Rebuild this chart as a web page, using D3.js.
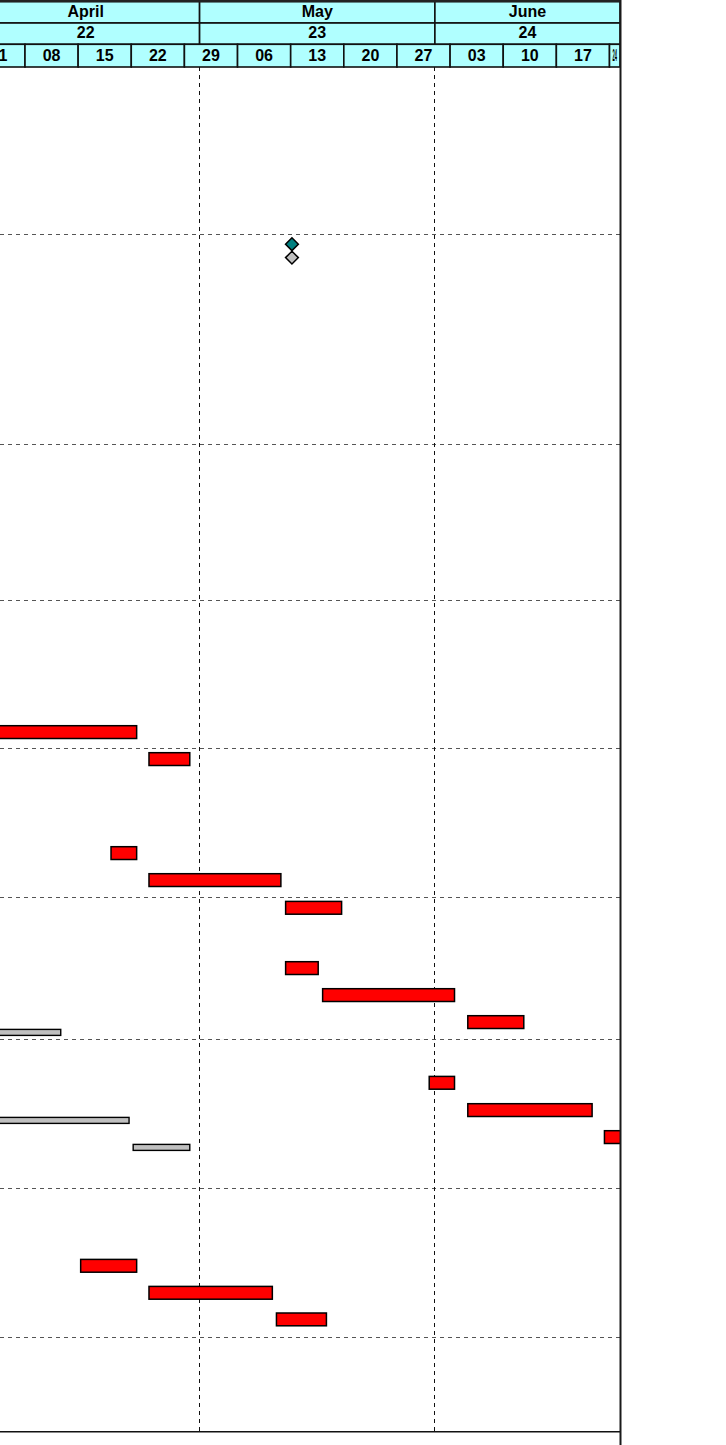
<!DOCTYPE html>
<html>
<head>
<meta charset="utf-8">
<script src="https://cdn.jsdelivr.net/npm/d3@7"></script>
<style>
body { margin: 0; background: #fff; }
svg { display: block; }
</style>
</head>
<body>
<script>
// timescale tiers
var monthStarts = ["2024-04-01", "2024-05-01", "2024-06-01", "2024-07-01"]
var monthLabels = ["April", "May", "June"]
var periodLabels = ["22", "23", "24"]

// scheduled bars (red) - row = task row in the sheet
var tasks = [
  {row: 5,  start: "2024-03-25 08:00", end: "2024-04-22 17:00"},
  {row: 6,  start: "2024-04-24 08:00", end: "2024-04-29 17:00"},
  {row: 8,  start: "2024-04-19 08:00", end: "2024-04-22 17:00"},
  {row: 9,  start: "2024-04-24 08:00", end: "2024-05-11 17:00"},
  {row: 10, start: "2024-05-12 08:00", end: "2024-05-19 17:00"},
  {row: 12, start: "2024-05-12 08:00", end: "2024-05-16 15:00"},
  {row: 13, start: "2024-05-17 05:00", end: "2024-06-03 14:00"},
  {row: 14, start: "2024-06-05 08:00", end: "2024-06-12 17:00"},
  {row: 16, start: "2024-05-31 06:00", end: "2024-06-03 14:00"},
  {row: 17, start: "2024-06-05 08:00", end: "2024-06-21 17:00"},
  {row: 18, start: "2024-06-23 08:00", end: "2024-06-28 17:00"},
  {row: 20, start: "2024-04-15 08:00", end: "2024-04-22 17:00"},
  {row: 21, start: "2024-04-24 08:00", end: "2024-05-10 14:00"},
  {row: 22, start: "2024-05-11 03:00", end: "2024-05-17 17:00"}
]

// baseline bars (grey)
var baselines = [
  {row: 14, start: "2024-03-25 08:00", end: "2024-04-12 17:00"},
  {row: 17, start: "2024-03-25 08:00", end: "2024-04-21 17:00"},
  {row: 18, start: "2024-04-22 06:00", end: "2024-04-29 17:00"}
]

// milestones
var milestones = [
  {row: 1, date: "2024-05-13 04:00", kind: "task"},
  {row: 1, date: "2024-05-13 04:00", kind: "baseline"}
]

// row heights of the sheet (wrapped names make some rows taller)
var rowHeights = [167, 27, 183, 156, 121.3, 27, 27, 67, 27, 27.7, 27, 33.3, 27, 27, 27.7,
                  33, 27.3, 27, 61.7, 67, 27, 26.6, 28.4, 95]
var groupEnds = [0, 2, 3, 5, 9, 14, 18, 22]

var W = 726, H = 1445, chartRight = 620, headTop = 1.3, headBottom = 67
var parseT = d3.timeParse("%Y-%m-%d %H:%M")
var parseD = d3.timeParse("%Y-%m-%d")
var font = "'Liberation Sans', Arial, sans-serif"

var x = d3.scaleTime()
  .domain([parseD("2024-04-08"), parseD("2024-06-24")])
  .range([25, 609.5])
var tStart = parseD(monthStarts[0])
var tEnd = x.invert(chartRight)

var tops = []
var acc = headBottom
rowHeights.forEach(function(h) { tops.push(acc); acc += h })
var bottom = acc
var y = d3.scaleOrdinal().domain(d3.range(rowHeights.length)).range(tops)

var svg = d3.select("body").append("svg")
  .attr("width", W)
  .attr("height", H)

svg.append("defs").append("clipPath").attr("id", "plot")
  .append("rect").attr("x", 0).attr("y", 0).attr("width", chartRight).attr("height", H)

var g = svg.append("g").attr("clip-path", "url(#plot)")

// ---- grid ----
groupEnds.forEach(function(r) {
  var yy = Math.round(tops[r] + rowHeights[r]) + 0.5
  g.append("line")
    .attr("x1", 0).attr("x2", chartRight)
    .attr("y1", yy).attr("y2", yy)
    .attr("stroke", "#555").attr("stroke-width", 1)
    .attr("stroke-dasharray", "4,4")
})

g.selectAll("line.vgrid")
  .data(monthStarts.slice(1, 3)).enter()
  .append("line")
  .attr("class", "vgrid")
  .attr("x1", function(d) { return Math.round(x(parseD(d))) - 0.5 })
  .attr("x2", function(d) { return Math.round(x(parseD(d))) - 0.5 })
  .attr("y1", headBottom).attr("y2", bottom)
  .attr("stroke", "#111").attr("stroke-width", 1)
  .attr("stroke-dasharray", "4,4")

// ---- bars ----
g.selectAll("rect.task")
  .data(tasks).enter()
  .append("rect")
  .attr("class", "task")
  .attr("x", function(d) { return x(parseT(d.start)) })
  .attr("width", function(d) { return x(parseT(d.end)) - x(parseT(d.start)) })
  .attr("y", function(d) { return y(d.row) + 4.4 })
  .attr("height", 12.8)
  .attr("fill", "#ff0000")
  .attr("stroke", "#000").attr("stroke-width", 1.5)

g.selectAll("rect.base")
  .data(baselines).enter()
  .append("rect")
  .attr("class", "base")
  .attr("x", function(d) { return x(parseT(d.start)) })
  .attr("width", function(d) { return x(parseT(d.end)) - x(parseT(d.start)) })
  .attr("y", function(d) { return y(d.row) + 18.1 })
  .attr("height", 6)
  .attr("fill", "#c0c0c0")
  .attr("stroke", "#000").attr("stroke-width", 1.4)

g.selectAll("path.ms")
  .data(milestones).enter()
  .append("path")
  .attr("class", "ms")
  .attr("transform", function(d) {
    var cy = y(d.row) + (d.kind == "task" ? 10.2 : 23.6)
    return "translate(" + x(parseT(d.date)) + "," + cy + ")"
  })
  .attr("d", "M0,-6.4L6.4,0L0,6.4L-6.4,0Z")
  .attr("fill", function(d) { return d.kind == "task" ? "#008080" : "#c0c0c0" })
  .attr("stroke", "#000").attr("stroke-width", 1.5)

// bottom line
svg.append("line")
  .attr("x1", 0).attr("x2", chartRight)
  .attr("y1", Math.round(bottom) - 0.2).attr("y2", Math.round(bottom) - 0.2)
  .attr("stroke", "#111").attr("stroke-width", 1.6)

// ---- header ----
var head = svg.append("g").attr("clip-path", "url(#plot)")
var rowsY = [headTop, 23, 44.3, headBottom]

function fitText(sel, w) {
  sel.each(function() {
    var len = this.getComputedTextLength()
    if (len > w - 4) {
      d3.select(this).attr("textLength", Math.max(w - 6, 1)).attr("lengthAdjust", "spacingAndGlyphs")
    }
  })
}

function tier(level, spans, labels, baseline) {
  var cells = head.selectAll("g.t" + level)
    .data(spans).enter()
    .append("g").attr("class", "t" + level)
  cells.append("rect")
    .attr("x", function(d) { return x(d[0]) })
    .attr("width", function(d) { return x(d[1]) - x(d[0]) })
    .attr("y", rowsY[level])
    .attr("height", rowsY[level + 1] - rowsY[level])
    .attr("fill", "#b0ffff")
    .attr("stroke", "#111").attr("stroke-width", 1.6)
  cells.append("text")
    .attr("x", function(d) { return (x(d[0]) + x(d[1])) / 2 })
    .attr("y", baseline)
    .attr("text-anchor", "middle")
    .attr("font-family", font)
    .attr("font-weight", "bold")
    .attr("font-size", "16px")
    .attr("fill", "#000")
    .text(function(d, i) { return labels[i] })
    .call(function(s) {
      s.each(function(d) { fitText(d3.select(this), x(d[1]) - x(d[0])) })
    })
}

var monthSpans = monthLabels.map(function(m, i) {
  var a = parseD(monthStarts[i]), b = parseD(monthStarts[i + 1])
  return [a < tStart ? tStart : a, b > tEnd ? tEnd : b]
})
tier(0, monthSpans, monthLabels, 17)
tier(1, monthSpans, periodLabels, 38.4)

var weeks = d3.timeMonday.range(tStart, tEnd)
var weekSpans = weeks.map(function(w) {
  var b = d3.timeDay.offset(w, 7)
  return [w, b > tEnd ? tEnd : b]
})
tier(2, weekSpans, weeks.map(d3.timeFormat("%d")), 61)

// top edge and right border
svg.append("line")
  .attr("x1", 0).attr("x2", chartRight + 1)
  .attr("y1", headTop).attr("y2", headTop)
  .attr("stroke", "#222").attr("stroke-width", 2.4)

svg.append("line")
  .attr("x1", chartRight + 0.5).attr("x2", chartRight + 0.5)
  .attr("y1", 0).attr("y2", H)
  .attr("stroke", "#1a1a1a").attr("stroke-width", 2)
</script>
</body>
</html>
